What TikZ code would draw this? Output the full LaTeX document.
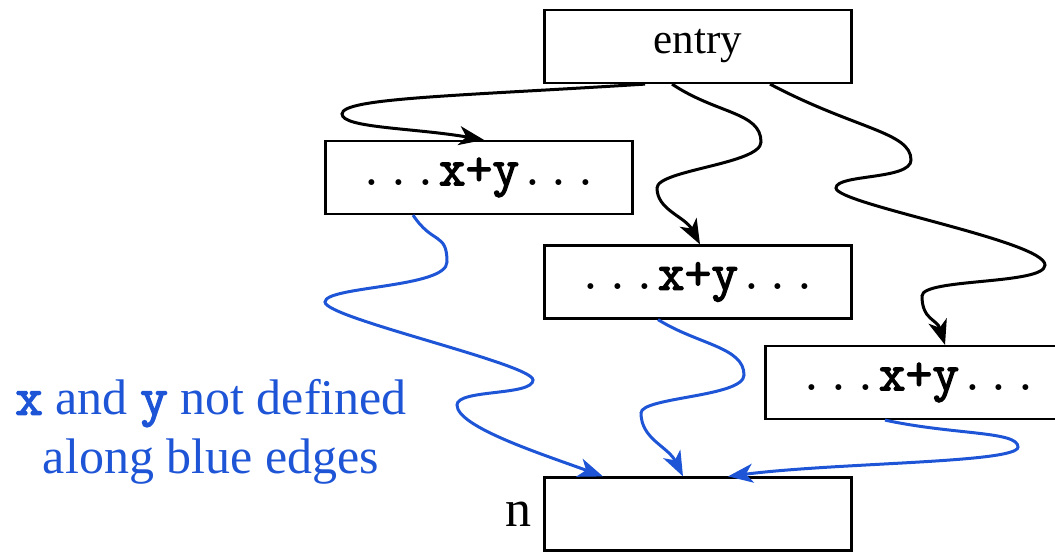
\documentclass[tikz,border=0pt]{standalone}
\usepackage{fontspec}
\setmainfont{Liberation Serif}
\newfontfamily\codefont{Latin Modern Mono}
\newfontfamily\codebold[FakeBold=2.5]{Latin Modern Mono}
\usetikzlibrary{arrows.meta}
\definecolor{edgeblue}{RGB}{30,85,215}
\newcommand{\usexy}{{\fontsize{52}{58}\selectfont\codefont ...{\codebold x+y}...}}
\newcommand{\var}[1]{{\fontsize{54}{58}\selectfont\codebold #1}}

\begin{document}
\begin{tikzpicture}[x=1pt,y=-1pt,
	block/.style={ draw, line width=2.2pt, minimum width=307pt, minimum height=73pt, inner sep=0pt, font=\fontsize{43}{50}\selectfont },
	flow/.style={ line width=3pt, -{Stealth[length=25pt,width=19pt,inset=7pt]} },
	flowb/.style={ flow, edgeblue }
]

\clip (0,0) rectangle (1055,552);
\node at (698,46.5) (entry) [block] {entry};
\node at (479,177.5) (use1) [block] {\usexy};
\node at (698,282) (use2) [block] {\usexy};
\node at (919,382.5) (use3) [block] {\usexy};
\node at (698,514) (n) [block,label={[font=\fontsize{52}{58}\selectfont,label distance=8pt]left:n}] {};

% paths from entry
\draw[flow] ([xshift=-53pt]entry.south) .. controls +(-190,12) and +(0,-16) .. (342,114)
	.. controls +(0,14) and +(-70,-12) .. ([xshift=5pt]use1.north);
\draw[flow] ([xshift=-26pt]entry.south) .. controls +(45,30) and +(0,-30) .. (761,142)
	.. controls +(0,22) and +(0,-18) .. (657,188)
	.. controls +(0,22) and +(-15,-28) .. ([xshift=2pt]use2.north);
\draw[flow] ([xshift=72pt]entry.south) .. controls +(85,45) and +(0,-28) .. (911,160)
	.. controls +(0,20) and +(0,-14) .. (836,188)
	.. controls +(0,16) and +(0,-24) .. (1045,265)
	.. controls +(0,20) and +(0,-18) .. (922,296)
	.. controls +(0,24) and +(-8,-26) .. ([xshift=26pt]use3.north);

% blue edges, x and y undefined
\draw[flowb] ([xshift=-66pt]use1.south) .. controls +(20,30) and +(0,-30) .. (447,262)
	.. controls +(0,26) and +(0,-16) .. (325,302)
	.. controls +(0,16) and +(0,-16) .. (533,380)
	.. controls +(0,16) and +(0,-16) .. (457,405)
	.. controls +(0,22) and +(-60,-22) .. ([xshift=-95pt]n.north);
\draw[flowb] ([xshift=-40pt]use2.south) .. controls +(40,25) and +(0,-28) .. (744,375)
	.. controls +(0,22) and +(0,-16) .. (641,413)
	.. controls +(0,26) and +(-15,-30) .. ([xshift=-15pt]n.north);
\draw[flowb] ([xshift=-34pt]use3.south) .. controls +(70,15) and +(0,-16) .. (1018,447)
	.. controls +(0,16) and +(110,-14) .. ([xshift=30pt]n.north);

\node at (211,432) (note) [edgeblue,align=center,font=\fontsize{50}{59}\selectfont] {\var{x} and \var{y} not defined\\along blue edges};

\end{tikzpicture}
\end{document}
